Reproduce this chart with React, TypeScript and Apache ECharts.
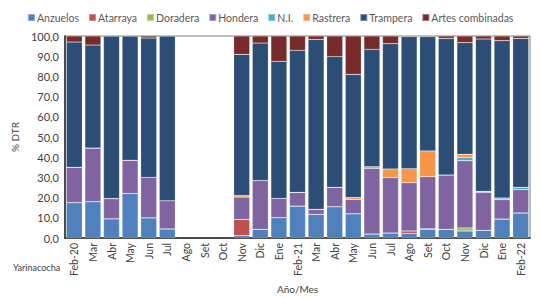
import React, { useEffect, useRef } from "react";
import * as echarts from "echarts";

const categories = ["Feb-20","Mar","Abr","May","Jun","Jul","Ago","Set","Oct","Nov","Dic","Ene","Feb-21","Mar","Abr","May","Jun","Jul","Ago","Set","Oct","Nov","Dic","Ene","Feb-22"];

const anzuelos =  [17.5,18,9.5,22,10,4.5,null,null,null,1.2,4.3,10.1,15.8,11.7,15.5,12.0,2.0,2.5,2.3,4.3,4.3,3.5,3.8,9.4,12.4];
const atarraya =  [0,0,0,0,0,0,null,null,null,8,0,0,0,0,0,0,0,0,1.2,0.3,0,0,0,0,0];
const doradera =  [0,0,0,0,0,0,null,null,null,0,0,0,0,0,0,0,0,0,0,0,0,1.5,0,0,0];
const hondera =   [17.5,26.5,10,16.5,20,14,null,null,null,11.1,24.2,9.5,6.8,2.5,9.6,7.1,32.5,27.4,23.9,25.8,26.9,33.3,18.8,9.6,11.5];
const ni =        [0,0,0,0,0,0,null,null,null,0,0,0,0,0,0,0,0,0,0,0,0,1.6,0.5,0.8,1.2];
const rastrera =  [0,0,0,0,0,0,null,null,null,0.8,0,0,0,0,0,0.9,0.8,4.3,6.9,12.7,0,1.5,0,0,0];
const trampera =  [62,51,80.5,61.5,69,81.5,null,null,null,69.8,68,67.9,70.3,84.1,64.7,61,58.1,62,65.4,56.6,67.6,55.3,75.4,77.9,73.7];
const artes =     [3,4.5,0,0,1,0,null,null,null,9.1,3.5,12.5,7.1,1.7,10.2,19,6.6,3.8,0.3,0.3,1.2,3.3,1.5,2.3,1.2];

const seriesDefs = [
  { name: "Anzuelos", data: anzuelos, color: "#4F81BD" },
  { name: "Atarraya", data: atarraya, color: "#C0504D" },
  { name: "Doradera", data: doradera, color: "#9BBB59" },
  { name: "Hondera", data: hondera, color: "#8064A2" },
  { name: "N.I.", data: ni, color: "#4BACC6" },
  { name: "Rastrera", data: rastrera, color: "#F79646" },
  { name: "Trampera", data: trampera, color: "#2C4D75" },
  { name: "Artes combinadas", data: artes, color: "#772C2A" },
];

export default function App() {
  const ref = useRef<HTMLDivElement>(null);
  useEffect(() => {
    if (!ref.current) return;
    const chart = echarts.init(ref.current, null, { renderer: "svg" });
    const font = "Lato";
    chart.setOption({
      animation: false,
      textStyle: { fontFamily: font },
      legend: {
        top: 7,
        left: 22,
        itemWidth: 7,
        itemHeight: 7,
        itemGap: 9,
        icon: "rect",
        textStyle: { fontSize: 10.5, color: "#595959", padding: [0, 0, 0, -3] },
        data: seriesDefs.map((s) => s.name),
      },
      grid: {
        left: 65,
        right: 10,
        top: 36,
        bottom: 61,
        outerBoundsMode: "none",
        containLabel: false,
        show: true,
        borderColor: "#7f7f7f",
        borderWidth: 1,
      },
      xAxis: {
        type: "category",
        data: categories,
        name: "Año/Mes",
        nameLocation: "middle",
        nameGap: 46,
        nameTextStyle: { fontSize: 10, color: "#404040" },
        axisLine: { lineStyle: { color: "#262626", width: 1.5 } },
        axisTick: { show: false },
        axisLabel: { rotate: 90, fontSize: 10.5, color: "#404040", interval: 0, margin: 5 },
      },
      yAxis: {
        type: "value",
        min: 0,
        max: 100,
        interval: 10,
        name: "% DTR",
        nameLocation: "middle",
        nameGap: 43,
        nameTextStyle: { fontSize: 10, color: "#404040" },
        axisLine: { show: true, lineStyle: { color: "#262626", width: 1.5 } },
        axisTick: { show: false },
        splitLine: { show: false },
        axisLabel: {
          fontSize: 11,
          color: "#404040",
          margin: 6,
          formatter: (v: number) => v.toFixed(1).replace(".", ","),
        },
      },
      graphic: [
        {
          type: "text",
          left: 13,
          top: 263,
          style: { text: "Yarinacocha", fontSize: 9, fill: "#404040", fontFamily: font },
        },
      ],
      series: seriesDefs.map((s) => ({
        name: s.name,
        type: "bar",
        stack: "total",
        data: s.data,
        barCategoryGap: "14%",
        itemStyle: { color: s.color, borderColor: "rgba(255,255,255,0.35)", borderWidth: 0.5 },
      })),
    });
    return () => chart.dispose();
  }, []);
  return <div ref={ref} style={{ position: "absolute", left: 0, top: 0, width: 540, height: 299 }} />;
}
